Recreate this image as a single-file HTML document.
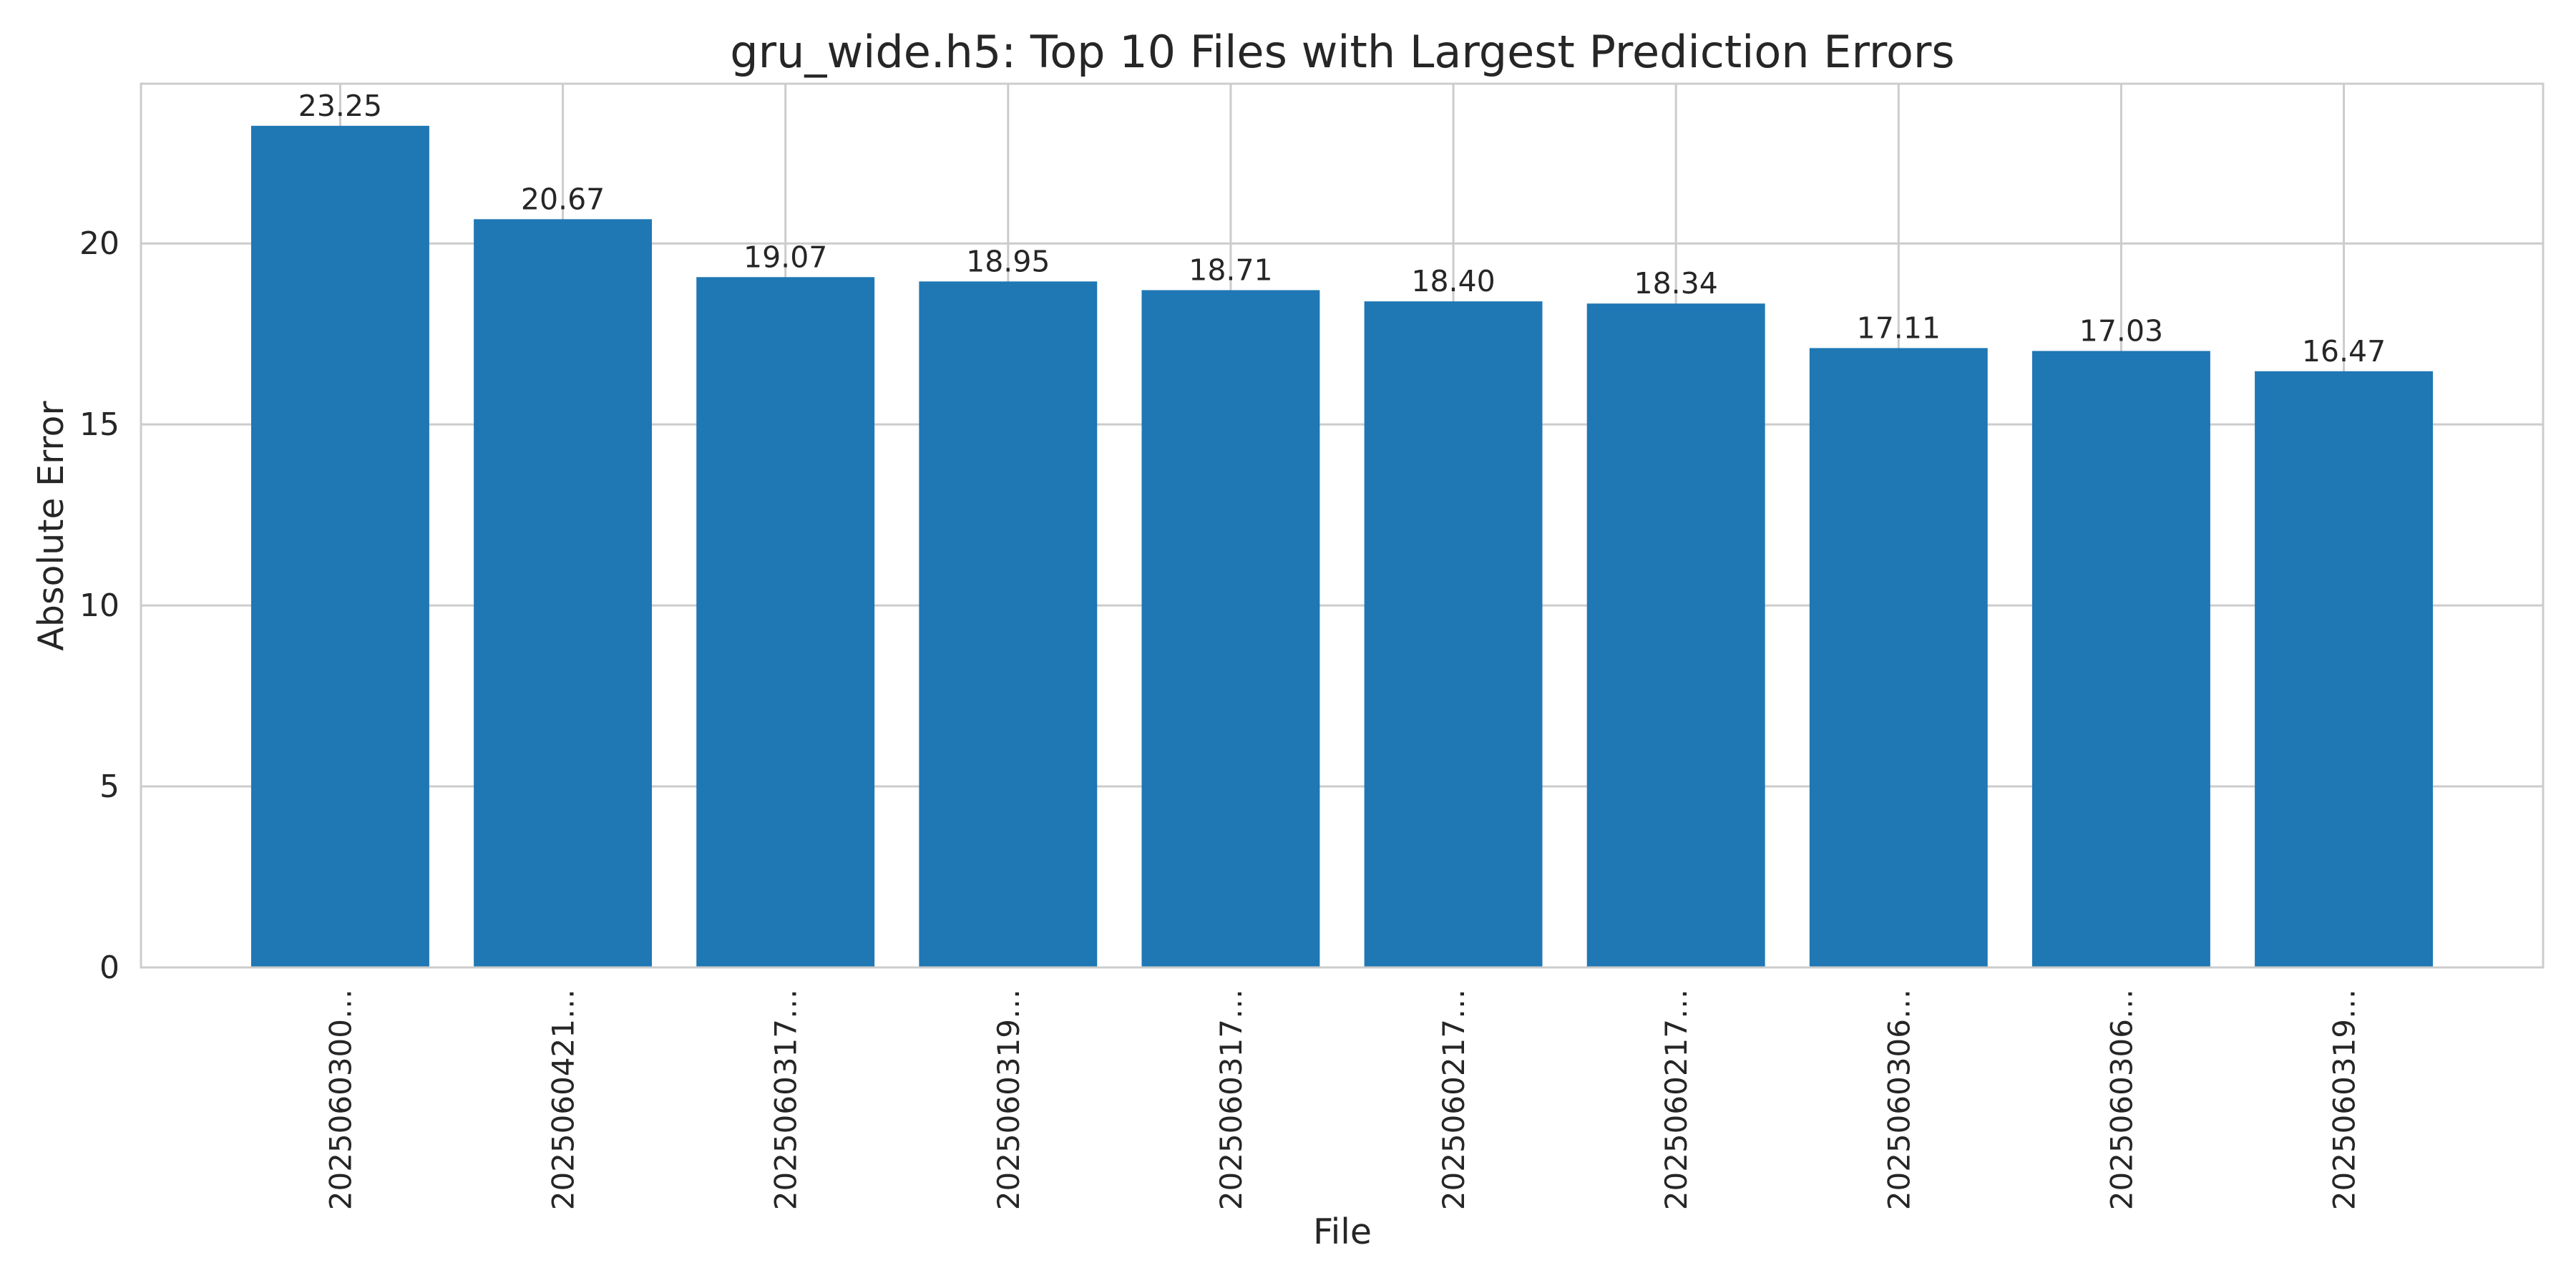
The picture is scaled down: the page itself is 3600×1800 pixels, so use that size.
<!DOCTYPE html>
<html><head><meta charset="utf-8"><style>
html,body{margin:0;padding:0;background:#fff;}
svg{display:block;font-family:"DejaVu Sans","Liberation Sans",sans-serif;}
</style></head><body>
<svg id="chart" width="3600" height="1800" viewBox="0 0 3600 1800" xmlns="http://www.w3.org/2000/svg">
<rect x="0" y="0" width="3600" height="1800" fill="#fff"/>
<text x="1876" y="94" font-size="62" fill="#262626" text-anchor="middle">gru_wide.h5: Top 10 Files with Largest Prediction Errors</text>
<g id="grid"></g>
<g id="bars"></g>
<rect x="197" y="117" width="3357" height="1235" fill="none" stroke="#cccccc" stroke-width="3"/>
<g id="labels"></g>
<text transform="translate(88,735) rotate(-90)" font-size="49" fill="#262626" text-anchor="middle">Absolute Error</text>
<text x="1876" y="1738" font-size="49" fill="#262626" text-anchor="middle">File</text>
</svg>
<script>
const categories = ["2025060300…","2025060421…","2025060317…","2025060319…","2025060317…","2025060217…","2025060217…","2025060306…","2025060306…","2025060319…"];
const errors = [23.25, 20.67, 19.07, 18.95, 18.71, 18.40, 18.34, 17.11, 17.03, 16.47];
const yTicks = [0, 5, 10, 15, 20];

const NS = "http://www.w3.org/2000/svg";
const L = 197, R = 3554, T = 117, B = 1352;
const xMin = -0.895, xMax = categories.length - 1 + 0.895;
const yMax = Math.max(...errors) * 1.05;
const xS = v => L + (v - xMin) / (xMax - xMin) * (R - L);
const yS = v => B - v / yMax * (B - T);
const unit = xS(1) - xS(0);

function mk(tag, attrs, parent) {
  const e = document.createElementNS(NS, tag);
  for (const k in attrs) e.setAttribute(k, attrs[k]);
  parent.appendChild(e);
  return e;
}
const grid = document.getElementById('grid');
const bars = document.getElementById('bars');
const labels = document.getElementById('labels');

yTicks.forEach(t => {
  const y = yS(t);
  const g = mk('line', {x1: L, x2: R, y1: y, y2: y, stroke: '#cccccc', 'stroke-width': 3}, grid);
  
  
  const tl = mk('text', {x: 167, y: y + 15, 'font-size': 44, fill: '#262626', 'text-anchor': 'end'}, labels);
  tl.textContent = t;
  
  
});
categories.forEach((c, i) => {
  const x = xS(i);
  const g = mk('line', {x1: x, x2: x, y1: T, y2: B, stroke: '#cccccc', 'stroke-width': 3}, grid);
  
  
  const w = unit * 0.8;
  const b = mk('rect', {x: x - w / 2, y: yS(errors[i]), width: w, height: B - yS(errors[i]), fill: '#1f77b4'}, bars);
  
  
  const v = mk('text', {x: x, y: yS(errors[i]) - 14, 'font-size': 41, fill: '#262626', 'text-anchor': 'middle'}, labels);
  v.textContent = errors[i].toFixed(2);
  
  
  const xl = mk('text', {transform: 'translate(' + (x + 15) + ',1382) rotate(-90)', 'font-size': 42, fill: '#262626', 'text-anchor': 'end'}, labels);
  xl.textContent = c;
  
  
});
</script>
</body></html>
